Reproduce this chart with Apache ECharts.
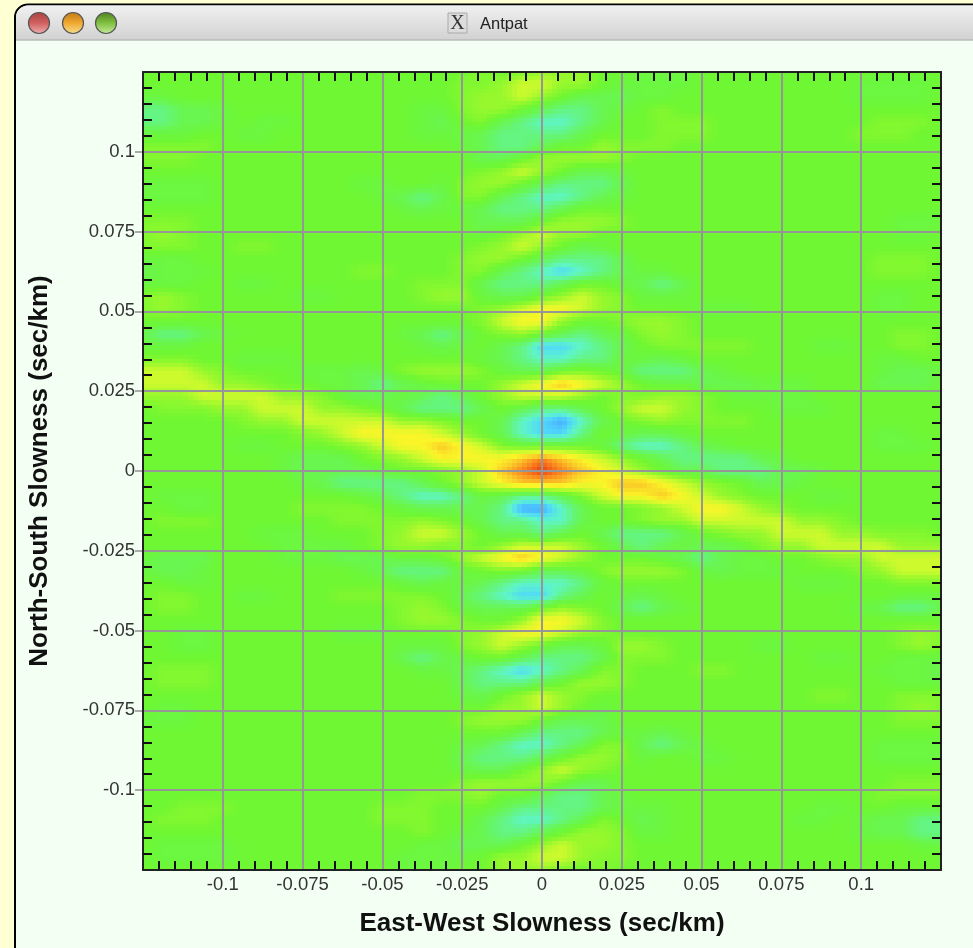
<!DOCTYPE html>
<html><head><meta charset="utf-8">
<style>html,body{margin:0;padding:0;background:#ffffd4}#c{width:973px;height:948px}</style>
<script src="https://cdn.jsdelivr.net/npm/echarts@6/dist/echarts.min.js"></script>
</head><body><div id="c"></div>
<script>
// Window / axis text
const windowTitle = "Antpat";
const xAxisName = "East-West Slowness (sec/km)";
const yAxisName = "North-South Slowness (sec/km)";
const axisMin = -0.125, axisMax = 0.125, majorStep = 0.025;
const tickLabels = ["-0.1","-0.075","-0.05","-0.025","0","0.025","0.05","0.075","0.1"];
// Colour of each response level 0..11
const levelColors = [[70,170,255],[80,215,250],[95,245,200],[100,245,130],[105,246,80],[110,247,50],
 [150,248,45],[205,250,45],[250,245,40],[250,200,40],[250,130,30],[235,60,20]];
// Level codes: hex digit = level, m = 4.5, n = 5.5
const halfLevels = {m:4.5, n:5.5};
// Response level read at 41 x 65 sample nodes, top row (+0.125) to bottom row (-0.125), left to right
const levelRows = [
"5555555555 5555555n5n 66655mmm55 5555555555 5",
"5555555555 555555nn67 7665mmmm55 555555mmmm 5",
"mm55555555 555555n667 65444mm555 555555mmmm 5",
"3344m55555 5555mmn665 4334m5n555 5555555555 5",
"3344m5mm55 5555m45n43 223455nnn5 5555555nnn 5",
"mmm55mm555 5555mmm433 334555nnn5 555555nnn5 5",
"nnnn555555 555555m433 4556nnn555 5555555555 5",
"nnn5555555 5555555445 6666n55555 5555555555 5",
"5555555555 5555555n67 6544m55555 5555555555 5",
"mmmm555555 5mm55mn665 4333455555 5555555555 5",
"mmmm555555 55m434nn43 2234m55555 5555555555 5",
"5555555555 555m4mm433 3455555555 5555555555 5",
"nnn5555555 5555555444 5666n55555 55555555mm m",
"n6n5555555 5555555m56 7665555555 55555555mm 5",
"nnn55nn555 5555555n67 654m555555 5555555555 5",
"mmm5555555 555555n665 4333455555 5555555nnn 5",
"4mmm555555 5nn555nn43 21234mm555 5555555nnn 5",
"mmm55mm555 5555nnn433 3455m43455 5555555555 5",
"n6n55555mm 5555n66m44 5676nmmm55 5555555mm5 5",
"n6n5555555 5555555n67 8876n555mm m555555mm5 5",
"5555555555 5555555n78 8655n66n55 5555555555 5",
"4334m55555 555m4345n6 5434mn6n55 55555555nn 5",
"mmm5555555 5555m4m543 112345nnnn n555mm55nn 5",
"nnn55mmm55 5555555m43 2233mm4m55 5555555mm5 5",
"7776n555mm m4mn666nm4 45n5m3334m 5555555m44 m",
"777766n55m m434m55567 898765mm44 4mmm555444 m",
"666777766n m44m434567 7765nn66n5 mmmm555555 5",
"5nnn667776 6n54333454 33456776n5 55mmm55555 5",
"55555n6677 77766n5542 10245n6nnn n555555555 5",
"55555555n6 7888876542 1135m44m55 5555555mm5 5",
"55555mm555 n6788987n5 555m32234m 5555555mmm 5",
"5555555m44 45n6788889 a987654333 34m5555555 5",
"5555555m44 44m55n679a ba98765443 3344m55555 5",
"55555555m4 3333456789 998899876n 544m555555 5",
"5mmm555555 5m43223m43 34n7889876 n555mm5555 5",
"55mm5555nn nn5m444430 02455n6788 76n5555555 5",
"5nnn555555 nnnn6n5433 22455n6677 77766n5555 5",
"555555mmm5 55n6776544 345433345n 6677766nnn 5",
"5555555mmm m5n66nn567 7765434m44 mn66777766 6",
"m444555mmm 444mm56789 876555m434 mm55n66777 7",
"m44m555555 5m4333m5n5 44mn666nm4 mmm555n677 7",
"55mm555555 555m4mm432 223m555555 555mmm55nn n",
"5nn55mm555 nnnnn54321 1345m4m555 55555555mm m",
"5nn5555555 555n6nm444 56n5434m55 555555m433 4",
"5555555555 555n66n556 887n555555 5555555555 5",
"55mm555555 mmm555n678 876n555555 55555555n6 n",
"55mm555555 555mmmn676 544m66n555 5mm55555n6 n",
"5555555555 555434m554 3334nnn555 5555mm55mm m",
"5nnn555555 5555mm4321 234nn555nn 5555555mmm 4",
"5nnn555555 5555554333 4566n55555 55555555mm m",
"5555555555 555555m456 76n5555555 5555nn55nn n",
"5mm5555555 5555555566 765m555555 55555555n6 n",
"mmm5555555 555555n666 5444555555 55555555nn n",
"5555555555 5555555554 3334mm4m55 5555555555 5",
"5555555555 555555m432 234nn434m5 5555555mmm m",
"5555555555 5555554333 4566nm55mm 5555555mmm m",
"5555555555 555555m445 676n555555 5555555555 5",
"5555555555 555555n666 6544555555 55555555nn n",
"5555555555 5555nnn655 4334m55555 5555555nnn n",
"55nnn55555 55nnn55543 3334mmm555 5555mm55mm m",
"5nnn555555 55nnn55432 234n54m555 555mm5m443 3",
"5555555555 5555n5m433 4566nmm555 555555m443 3",
"5mmmm55555 5555mm4445 6766n55555 555555555m m",
"5mmmm55555 555mmmm566 776nn55555 5555555555 5",
"5555555555 555mmm5566 6n5n555555 5555555555 5"
];
const grid2 = levelRows.map(r => r.replace(/ /g,'').padEnd(41,'5').split('').map(c => c in halfLevels ? halfLevels[c] : parseInt(c,16)));
const nRows = grid2.length, nCols = grid2[0].length;
const dx = (axisMax-axisMin)/(nCols-1), dy = (axisMax-axisMin)/(nRows-1);
const points = [];
grid2.forEach((row,j) => row.forEach((v,i) => points.push([axisMin+i*dx, axisMax-j*dy, v, i, j])));

function levelColor(v){
  const a = Math.max(0,Math.min(levelColors.length-1,v)), k = Math.min(levelColors.length-2,Math.floor(a)), t = a-k;
  const c0 = levelColors[k], c1 = levelColors[k+1];
  return 'rgb('+[0,1,2].map(n => Math.round(c0[n]+(c1[n]-c0[n])*t)).join(',')+')';
}
// each cell spans four neighbouring nodes; the colour is shaded smoothly across it
const SUBX = 4, SUBY = 3;
function renderCell(params, api){
  const i = api.value(3), j = api.value(4);
  if (i >= nCols-1 || j >= nRows-1) return null;
  const p0 = api.coord([api.value(0), api.value(1)]);
  const p1 = api.coord([api.value(0)+dx, api.value(1)-dy]);
  const a = grid2[j][i], b = grid2[j][i+1], c = grid2[j+1][i], d = grid2[j+1][i+1];
  const children = [];
  for (let sy=0; sy<SUBY; sy++) for (let sx=0; sx<SUBX; sx++){
    const u=(sx+0.5)/SUBX, w=(sy+0.5)/SUBY;
    const v=(a*(1-u)+b*u)*(1-w)+(c*(1-u)+d*u)*w;
    const x0=Math.round(p0[0]+(p1[0]-p0[0])*sx/SUBX), x1=Math.round(p0[0]+(p1[0]-p0[0])*(sx+1)/SUBX);
    const y0=Math.round(p0[1]+(p1[1]-p0[1])*sy/SUBY), y1=Math.round(p0[1]+(p1[1]-p0[1])*(sy+1)/SUBY);
    children.push({type:'rect',silent:true,shape:{x:x0,y:y0,width:x1-x0,height:y1-y0},style:{fill:levelColor(v)}});
  }
  return {type:'group',children};
}
const fmt = v => { const s = (Math.round(v*1000)/1000).toString(); return tickLabels.indexOf(s)>=0 ? s : ''; };
const TXT = '"Liberation Sans", Arial, sans-serif';
function axisBase(pos, extra){
  return Object.assign({
    type:'value', position:pos, min:axisMin, max:axisMax, interval:majorStep, z:5,
    axisLine:{show:true,onZero:false,lineStyle:{color:'#222',width:2}},
    axisTick:{show:false,inside:true},
    minorTick:{show:true,splitNumber:5,length:9,lineStyle:{color:'#111',width:2}},
    minorSplitLine:{show:false}
  }, extra);
}
const labelStyle = m => ({show:true,formatter:fmt,color:'#333',fontSize:18.5,fontFamily:TXT,margin:m,showMinLabel:true,showMaxLabel:true});
const nameStyle = {fontFamily:TXT,fontSize:26,fontWeight:'bold',color:'#111'};
const ball = (x,top,mid,bot) => ({type:'circle',shape:{cx:x,cy:23,r:10.5},z:-1,
  style:{stroke:'#555',lineWidth:1.2,fill:new echarts.graphic.LinearGradient(0,0,0,1,[{offset:0,color:top},{offset:0.5,color:mid},{offset:1,color:bot}])}});
const chart = echarts.init(document.getElementById('c'),null,{renderer:'canvas'});
chart.setOption({
  animation:false,
  backgroundColor:'#ffffd4',
  graphic:{elements:[
    {type:'rect',z:-3,shape:{x:15,y:4.5,width:980,height:960,r:[13,0,0,0]},style:{fill:'#f3fff3',stroke:'#000',lineWidth:2}},
    {type:'rect',z:-2,shape:{x:16,y:5.5,width:960,height:34,r:[12,0,0,0]},style:{fill:new echarts.graphic.LinearGradient(0,0,0,1,[{offset:0,color:'#f0f0f0'},{offset:1,color:'#d2d2d2'}])}},
    {type:'rect',z:-2,shape:{x:16,y:39.5,width:960,height:1},style:{fill:'#999'}},
    ball(39,'#a84040','#d06060','#f0b0b0'), ball(73,'#c07818','#f0a830','#f8e090'), ball(106,'#4c8020','#80c040','#c8eca0'),
    {type:'rect',z:-1,shape:{x:448,y:13,width:19,height:20},style:{fill:'#dcdcdc',stroke:'#aaa',lineWidth:1}},
    {type:'text',z:-1,style:{x:457.5,y:24,text:'X',align:'center',verticalAlign:'middle',font:'20px "Liberation Serif", serif',fill:'#333'}},
    {type:'text',z:-1,style:{x:480,y:24,text:windowTitle,align:'left',verticalAlign:'middle',font:'16.5px '+TXT,fill:'#222'}}
  ]},
  grid:{left:143,right:32,top:72,bottom:78,containLabel:false},
  xAxis:[
    axisBase('bottom',{name:xAxisName,nameLocation:'middle',nameGap:41,nameTextStyle:nameStyle,
      axisLabel:labelStyle(5),
      splitLine:{show:true,lineStyle:{color:'#969696',width:2}}}),
    axisBase('top',{axisLabel:{show:false},splitLine:{show:false}})
  ],
  yAxis:[
    axisBase('left',{name:yAxisName,nameLocation:'middle',nameGap:90,nameTextStyle:nameStyle,
      axisLabel:labelStyle(8),
      splitLine:{show:true,lineStyle:{color:'#969696',width:2}}}),
    axisBase('right',{axisLabel:{show:false},splitLine:{show:false}}),
    {type:'value',position:'left',min:axisMin,max:axisMax,interval:majorStep,z:4,
      axisLine:{show:false,onZero:false},axisLabel:{show:false},splitLine:{show:false},
      axisTick:{show:true,inside:false,length:8,customValues:tickLabels.map(Number),lineStyle:{color:'#aaa',width:2}}}
  ],
  series:[{type:'custom',coordinateSystem:'cartesian2d',xAxisIndex:0,yAxisIndex:0,z:2,silent:true,
    progressive:0,animation:false,data:points,encode:{x:0,y:1},renderItem:renderCell}]
});
</script></body></html>
